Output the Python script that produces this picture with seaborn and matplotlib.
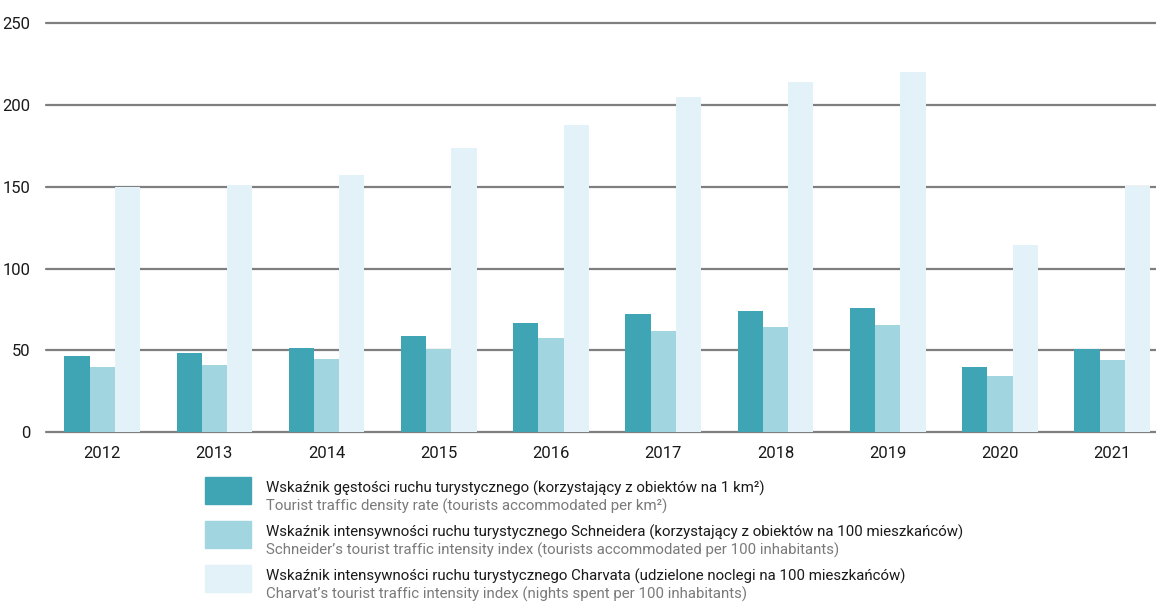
import pandas as pd
import matplotlib.pyplot as plt
import seaborn as sns
from matplotlib.patches import Rectangle

years = ["2012", "2013", "2014", "2015", "2016", "2017", "2018", "2019", "2020", "2021"]
density = [46.7, 48.2, 51.6, 58.9, 66.5, 72.2, 73.9, 75.7, 40.0, 50.6]
schneider = [40.0, 41.0, 44.5, 50.6, 57.3, 62.0, 64.1, 65.5, 34.5, 44.2]
charvat = [149.8, 151.0, 157.3, 173.6, 187.7, 205.2, 214.4, 220.3, 114.4, 150.5]

series_pl = [
    "Wskaźnik gęstości ruchu turystycznego (korzystający z obiektów na 1 km²)",
    "Wskaźnik intensywności ruchu turystycznego Schneidera (korzystający z obiektów na 100 mieszkańców)",
    "Wskaźnik intensywności ruchu turystycznego Charvata (udzielone noclegi na 100 mieszkańców)",
]
series_en = [
    "Tourist traffic density rate (tourists accommodated per km²)",
    "Schneider’s tourist traffic intensity index (tourists accommodated per 100 inhabitants)",
    "Charvat’s tourist traffic intensity index (nights spent per 100 inhabitants)",
]
colors = ["#3FA5B5", "#A1D5DF", "#E3F2F8"]

df = pd.DataFrame({
    "year": years * 3,
    "value": density + schneider + charvat,
    "series": [series_pl[0]] * 10 + [series_pl[1]] * 10 + [series_pl[2]] * 10,
})

sns.set_style("white")
plt.rcParams["font.family"] = ["Roboto", "DejaVu Sans"]

fig = plt.figure(figsize=(11.56, 6.05), dpi=100)
ax = fig.add_axes([46 / 1156, 1 - 432 / 605, 1 - 46 / 1156, (432 - 23.5) / 605])

sns.barplot(data=df, x="year", y="value", hue="series", palette=colors,
            width=0.674, gap=0, saturation=1, linewidth=0, legend=False, ax=ax)

ax.set_ylim(0, 250)
ax.set_xlim(-0.5, 9.39)
ax.set_yticks([0, 50, 100, 150, 200, 250])
ax.yaxis.grid(True, color="#7f7f7f", linewidth=1.6)
for gl in ax.get_ygridlines():
    gl.set_clip_on(False)
ax.set_axisbelow(True)
for s in ax.spines.values():
    s.set_visible(False)
ax.tick_params(axis="both", length=0, labelsize=12, colors="#1a1a1a")
ax.tick_params(axis="x", pad=10)
ax.tick_params(axis="y", pad=11)
ax.set_xlabel("")
ax.set_ylabel("")

# legend below the chart
for i in range(3):
    top = 477 + i * 44
    fig.patches.append(Rectangle((205 / 1156, 1 - (top + 27) / 605), 46 / 1156, 27 / 605,
                                 transform=fig.transFigure, color=colors[i]))
    fig.text(266 / 1156, 1 - (top + 11) / 605, series_pl[i], fontsize=10.8,
             color="#1a1a1a", va="center")
    fig.text(266 / 1156, 1 - (top + 29) / 605, series_en[i], fontsize=10.8,
             color="#7a7a7a", va="center")

fig.savefig("out.png", dpi=100)
